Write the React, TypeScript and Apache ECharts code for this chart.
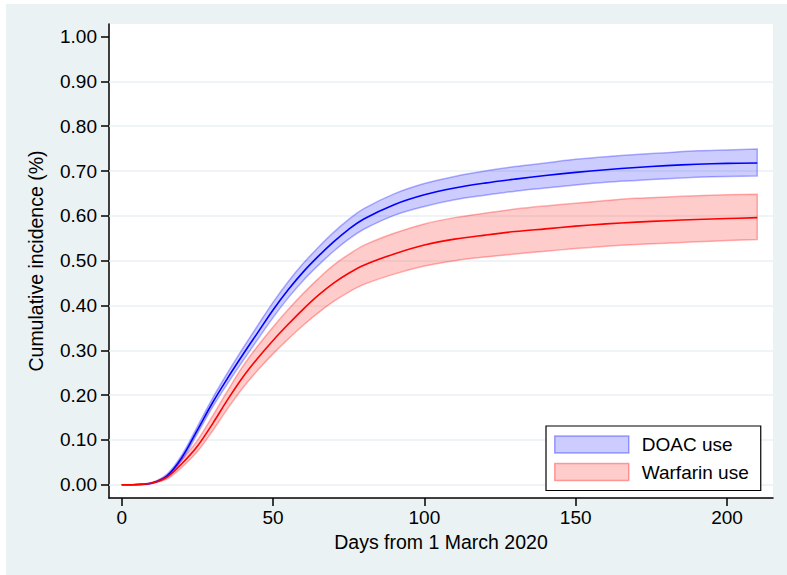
import React, { useEffect, useRef } from 'react';
import * as echarts from 'echarts';

const days = [0, 5, 10, 15, 20, 25, 30, 35, 40, 45, 50, 55, 60, 65, 70, 75, 80, 90, 100, 110, 120, 130, 140, 150, 160, 170, 180, 190, 200, 210];

const doacMean = [0, 0.0005, 0.004, 0.02, 0.062, 0.122, 0.183, 0.238, 0.29, 0.34, 0.39, 0.435, 0.475, 0.51, 0.542, 0.57, 0.593, 0.625, 0.647, 0.662, 0.673, 0.682, 0.69, 0.697, 0.703, 0.708, 0.712, 0.715, 0.717, 0.718];
const doacLower = [0, 0.0003, 0.003, 0.017, 0.056, 0.114, 0.173, 0.226, 0.276, 0.325, 0.373, 0.417, 0.456, 0.49, 0.521, 0.548, 0.57, 0.601, 0.621, 0.636, 0.646, 0.655, 0.662, 0.669, 0.675, 0.679, 0.683, 0.686, 0.688, 0.689];
const doacUpper = [0, 0.0008, 0.005, 0.024, 0.068, 0.13, 0.193, 0.25, 0.304, 0.356, 0.407, 0.453, 0.494, 0.53, 0.563, 0.592, 0.616, 0.649, 0.672, 0.688, 0.7, 0.71, 0.718, 0.726, 0.732, 0.737, 0.741, 0.745, 0.747, 0.749];

const warfMean = [0, 0.0004, 0.004, 0.017, 0.048, 0.086, 0.136, 0.19, 0.24, 0.283, 0.322, 0.358, 0.392, 0.423, 0.45, 0.472, 0.49, 0.515, 0.535, 0.548, 0.557, 0.565, 0.571, 0.577, 0.582, 0.586, 0.589, 0.592, 0.594, 0.596];
const warfLower = [0, 0.0002, 0.003, 0.013, 0.04, 0.074, 0.12, 0.17, 0.216, 0.256, 0.292, 0.325, 0.356, 0.384, 0.409, 0.43, 0.447, 0.47, 0.488, 0.5, 0.508, 0.515, 0.521, 0.527, 0.532, 0.536, 0.539, 0.542, 0.545, 0.547];
const warfUpper = [0, 0.0006, 0.005, 0.021, 0.057, 0.099, 0.153, 0.21, 0.264, 0.31, 0.352, 0.391, 0.427, 0.46, 0.49, 0.514, 0.534, 0.561, 0.582, 0.596, 0.606, 0.615, 0.622, 0.628, 0.634, 0.639, 0.642, 0.645, 0.647, 0.648];

const xTicks = [0, 50, 100, 150, 200];
const yTicks = [0, 0.1, 0.2, 0.3, 0.4, 0.5, 0.6, 0.7, 0.8, 0.9, 1.0];
const yGridLines = [0, 0.1, 0.2, 0.3, 0.4, 0.5, 0.6, 0.7, 0.8, 0.9];

const FONT = '"Liberation Sans", Arial, Helvetica, sans-serif';
const BG = '#EAF2F3';
const SMOOTH = 0.35;

function bandSeries(name: string, lo: number[], hi: number[], fill: string, stroke: string) {
  return {
    name,
    type: 'custom',
    z: 3,
    silent: true,
    data: days.map((d, i) => [d, lo[i], hi[i]]),
    encode: { x: 0, y: [1, 2] },
    renderItem: (params: any, api: any) => {
      if (params.dataIndex !== 0) return null;
      const pts: number[][] = [];
      const n = days.length;
      for (let i = 0; i < n; i++) pts.push(api.coord([days[i], hi[i]]));
      // repeat the end corners so the vertical end edge stays straight
      pts.push(api.coord([days[n - 1], hi[n - 1]]));
      pts.push(api.coord([days[n - 1], lo[n - 1]]));
      for (let i = n - 1; i >= 0; i--) pts.push(api.coord([days[i], lo[i]]));
      return {
        type: 'polygon',
        shape: { points: pts, smooth: SMOOTH },
        style: { fill, stroke, lineWidth: 1.5 },
      };
    },
  };
}

function meanSeries(name: string, vals: number[], color: string) {
  return {
    name,
    type: 'custom',
    z: 4,
    silent: true,
    data: days.map((d, i) => [d, vals[i]]),
    encode: { x: 0, y: 1 },
    renderItem: (params: any, api: any) => {
      if (params.dataIndex !== 0) return null;
      const pts = days.map((d, i) => api.coord([d, vals[i]]));
      return {
        type: 'polyline',
        shape: { points: pts, smooth: SMOOTH },
        style: { fill: null, stroke: color, lineWidth: 1.6 },
      };
    },
  };
}

export default function App() {
  const ref = useRef<HTMLDivElement>(null);
  useEffect(() => {
    if (!ref.current) return;
    const chart = echarts.init(ref.current, undefined, { renderer: 'svg' });
    const axisCommon = {
      axisLine: { show: true, onZero: false, lineStyle: { color: '#000', width: 1.5 } },
      axisTick: { show: true, length: 8, lineStyle: { color: '#000', width: 1.5 } },
      splitLine: { show: false },
      nameTextStyle: { color: '#000', fontSize: 19.5, fontFamily: FONT },
    };
    chart.setOption({
      animation: false,
      backgroundColor: 'transparent',
      textStyle: { fontFamily: FONT },
      grid: { left: 109, top: 24, right: 14, bottom: 77, show: true, backgroundColor: '#fff', borderWidth: 0 },
      xAxis: {
        type: 'value',
        min: -4.2,
        max: 215.2,
        name: 'Days from 1 March 2020',
        nameLocation: 'middle',
        nameGap: 31,
        ...axisCommon,
        axisTick: { ...axisCommon.axisTick, customValues: xTicks },
        axisLabel: { customValues: xTicks, color: '#000', fontSize: 19, fontFamily: FONT, margin: 10 },
      },
      yAxis: {
        type: 'value',
        min: -0.0295,
        max: 1.028,
        name: 'Cumulative incidence (%)',
        nameLocation: 'middle',
        nameGap: 63,
        ...axisCommon,
        axisTick: { ...axisCommon.axisTick, customValues: yTicks },
        axisLabel: {
          customValues: yTicks,
          color: '#000',
          fontSize: 19,
          fontFamily: FONT,
          margin: 12,
          formatter: (v: number) => v.toFixed(2),
        },
      },
      legend: {
        orient: 'vertical',
        left: 546,
        top: 426,
        padding: [9, 12, 9, 8],
        itemGap: 8.5,
        itemWidth: 74,
        itemHeight: 17,
        borderColor: '#000',
        borderWidth: 1.2,
        backgroundColor: '#fff',
        selectedMode: false,
        textStyle: { color: '#000', fontSize: 19, fontFamily: FONT, lineHeight: 19, padding: [0, 0, 0, 8] },
        data: [
          { name: 'DOAC use', icon: 'rect', itemStyle: { color: 'rgba(0,0,255,0.2)', borderColor: 'rgba(0,0,255,0.35)', borderWidth: 1.5 } },
          { name: 'Warfarin use', icon: 'rect', itemStyle: { color: 'rgba(255,0,0,0.2)', borderColor: 'rgba(255,0,0,0.35)', borderWidth: 1.5 } },
        ],
      },
      series: [
        {
          name: 'grid',
          type: 'line',
          data: [[0, 0]],
          symbol: 'none',
          lineStyle: { opacity: 0 },
          silent: true,
          z: 1,
          markLine: {
            z: 1,
            silent: true,
            symbol: ['none', 'none'],
            label: { show: false },
            lineStyle: { color: BG, width: 1.5, type: 'solid' },
            emphasis: { disabled: true },
            data: yGridLines.map((v) => ({ yAxis: v })),
          },
        },
        bandSeries('DOAC use', doacLower, doacUpper, 'rgba(0,0,255,0.2)', 'rgba(0,0,255,0.3)'),
        bandSeries('Warfarin use', warfLower, warfUpper, 'rgba(255,0,0,0.2)', 'rgba(255,0,0,0.3)'),
        meanSeries('DOAC mean', doacMean, '#0000FF'),
        meanSeries('Warfarin mean', warfMean, '#FF0000'),
      ],
    });
    return () => chart.dispose();
  }, []);
  return (
    <div style={{ position: 'fixed', left: 0, top: 0, width: 787, height: 575, background: '#fff' }}>
      <div style={{ position: 'absolute', left: 6, top: 4, right: 0, bottom: 0, background: BG }} />
      <div ref={ref} style={{ position: 'absolute', left: 0, top: 0, width: 787, height: 575 }} />
    </div>
  );
}
